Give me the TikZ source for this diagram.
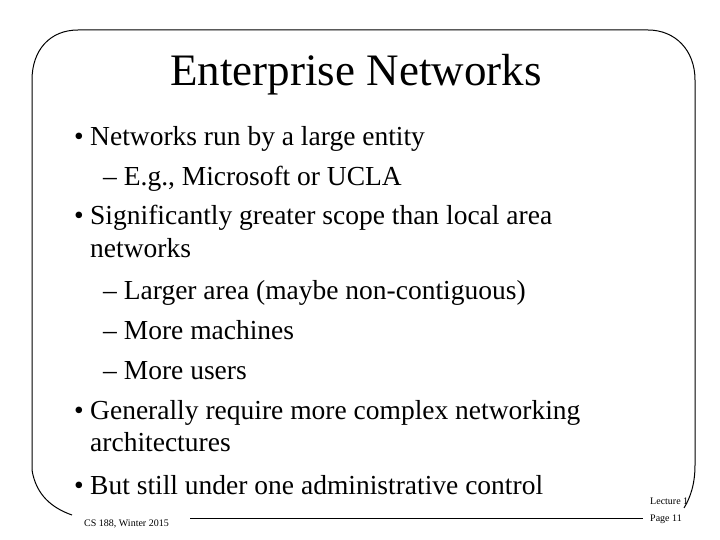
\documentclass[tikz,border=0pt]{standalone}
\usepackage{fontspec}
\setmainfont{Liberation Serif}
\begin{document}
\begin{tikzpicture}[x=1pt,y=-1pt,
  frame/.style={line width=1pt},
  body/.style={anchor=base west,inner sep=0pt,font=\fontsize{27.5}{32}\selectfont},
  small/.style={anchor=base west,inner sep=0pt,font=\fontsize{10}{12}\selectfont}]
\useasboundingbox (0,0) rectangle (720,540);
% frame
\draw[frame] (32,470) -- (32,80) .. controls (32,50) and (50,30) .. (78,30) -- (648,30)
  .. controls (675,30) and (695,50) .. (695,80) -- (695,465) .. controls (695,485) and (690,498) .. (684,508);
\draw[frame] (32,470) .. controls (36,495) and (52,508) .. (72,515);
\coordinate (la) at (190,518);
\coordinate (lb) at (643,518);
\draw[frame] (la) -- (lb);
\node[inner sep=0pt,font=\fontsize{45}{52}\selectfont] (title) at (356,75) {Enterprise Networks};
\node[body] (b1) at (74,146) {\textbullet};
\node[body] (t1) at (90,146) {Networks run by a large entity};
\node[body] (t2) at (103,186) {-- E.g., Microsoft or UCLA};
\node[body] (b2) at (74,225) {\textbullet};
\node[body] (t3) at (90,225) {Significantly greater scope than local area};
\node[body] (t4) at (90,257) {networks};
\node[body] (t5) at (103,299) {-- Larger area (maybe non-contiguous)};
\node[body] (t6) at (103,339) {-- More machines};
\node[body] (t7) at (103,379) {-- More users};
\node[body] (b3) at (74,419) {\textbullet};
\node[body] (t8) at (90,419) {Generally require more complex networking};
\node[body] (t9) at (90,451) {architectures};
\node[body] (b4) at (74,494) {\textbullet};
\node[body] (t10) at (90,494) {But still under one administrative control};
\node[small] (cs) at (84,526) {CS 188, Winter 2015};
\node[small] (lec) at (650,504) {Lecture 1};
\node[small] (pg) at (650,521) {Page 11};
\end{tikzpicture}
\end{document}
